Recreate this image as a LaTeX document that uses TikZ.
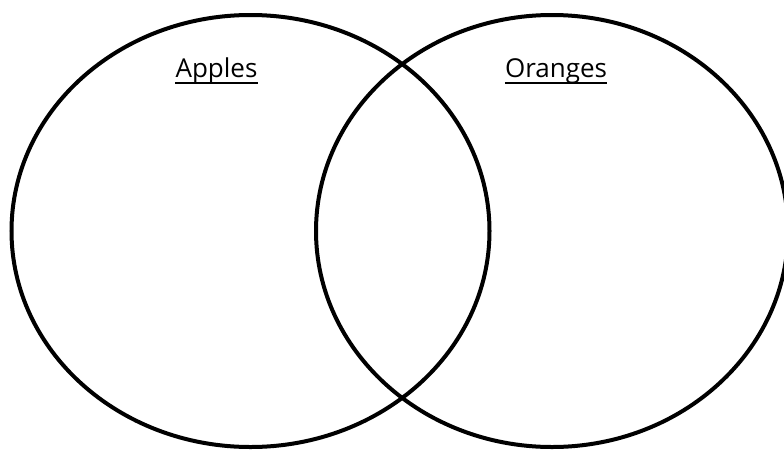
\documentclass[tikz,border=0pt]{standalone}
\usepackage{fontspec}
\setmainfont{Open Sans}
\begin{document}
\begin{tikzpicture}[x=1pt,y=-1pt,
  setring/.style={draw=black,line width=4pt},
  setlabel/.style={font=\fontsize{26}{31}\selectfont,anchor=base,inner sep=0pt},
  underl/.style={line width=2pt}]
\useasboundingbox (0,0) rectangle (784,450);
\begin{scope}
\clip (0,0) rectangle (784,450);
\draw[setring] (250.5,231) ellipse [x radius=239, y radius=216];
\draw[setring] (552,231) ellipse [x radius=236, y radius=216];
\end{scope}
\node[setlabel] (apples) at (216.5,77) {Apples};
\node[setlabel] (oranges) at (556,77) {Oranges};
\draw[underl] ([yshift=-5.5pt]apples.base west) -- ([yshift=-5.5pt]apples.base east);
\draw[underl] ([yshift=-5.5pt]oranges.base west) -- ([yshift=-5.5pt]oranges.base east);
\end{tikzpicture}
\end{document}
